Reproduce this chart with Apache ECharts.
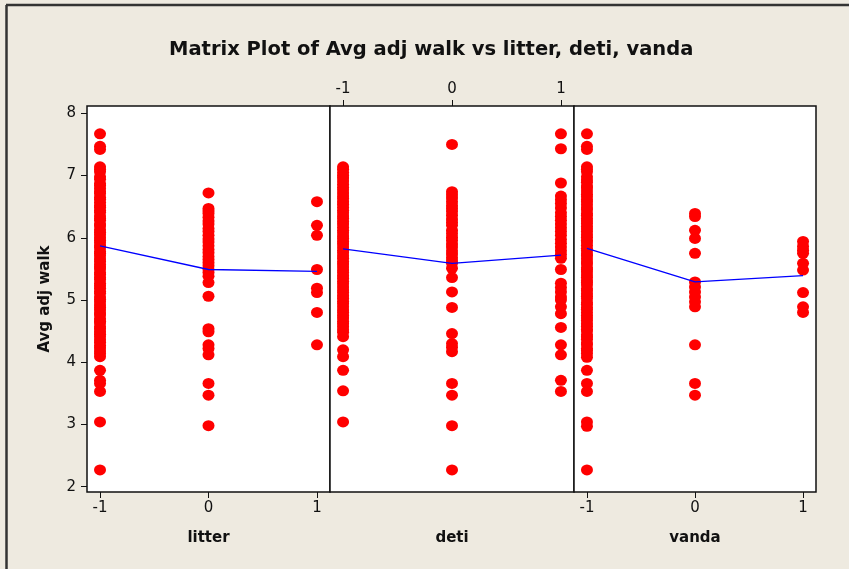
<!DOCTYPE html>
<html>
<head>
<meta charset="utf-8">
<script src="https://cdn.jsdelivr.net/npm/echarts@6/dist/echarts.min.js"></script>
<style>
  html, body { margin: 0; padding: 0; background: #eeeae0; }
  #main { width: 849px; height: 569px; }
</style>
</head>
<body>
<div id="main"></div>
<script>
// 各面板横轴
var levels = [-1, 0, 1];
var yTicks = [2, 3, 4, 5, 6, 7, 8];
var panelNames = ['litter', 'deti', 'vanda'];

// litter
var litterNeg = [7.67, 7.47, 7.42, 7.14, 7.10, 7.06, 6.98, 6.94, 6.87, 6.84, 6.79, 6.74, 6.71, 6.65, 6.62, 6.57, 6.52, 6.49, 6.44, 6.41, 6.35, 6.31, 6.28, 6.22, 6.19, 6.13, 6.09, 6.05, 6.00, 5.96, 5.92, 5.87, 5.84, 5.78, 5.75, 5.71, 5.66, 5.62, 5.57, 5.53, 5.50, 5.44, 5.41, 5.36, 5.33, 5.27, 5.23, 5.19, 5.14, 5.11, 5.05, 5.01, 4.97, 4.92, 4.88, 4.84, 4.79, 4.76, 4.70, 4.66, 4.63, 4.57, 4.54, 4.49, 4.45, 4.41, 4.36, 4.32, 4.27, 4.23, 4.18, 4.14, 4.09, 3.87, 3.71, 3.66, 3.53, 3.04, 2.27];
var litterZero = [6.72, 6.47, 6.43, 6.39, 6.33, 6.27, 6.22, 6.15, 6.10, 6.04, 5.98, 5.93, 5.87, 5.81, 5.76, 5.70, 5.65, 5.60, 5.55, 5.49, 5.44, 5.38, 5.28, 5.06, 4.54, 4.49, 4.28, 4.22, 4.12, 3.66, 3.47, 2.98];
var litterPos = [6.58, 6.20, 6.04, 5.49, 5.19, 5.12, 4.80, 4.28];
var litterMean = [5.87, 5.49, 5.46];

// deti
var detiNeg = [7.14, 7.10, 7.05, 7.00, 6.96, 6.91, 6.86, 6.81, 6.77, 6.72, 6.67, 6.63, 6.58, 6.54, 6.49, 6.44, 6.40, 6.35, 6.31, 6.26, 6.22, 6.17, 6.12, 6.08, 6.03, 5.99, 5.94, 5.90, 5.85, 5.80, 5.76, 5.71, 5.67, 5.62, 5.58, 5.53, 5.48, 5.44, 5.39, 5.35, 5.30, 5.26, 5.21, 5.16, 5.12, 5.07, 5.03, 4.98, 4.94, 4.89, 4.84, 4.80, 4.75, 4.71, 4.66, 4.62, 4.57, 4.52, 4.48, 4.41, 4.20, 4.09, 3.87, 3.54, 3.04];
var detiZero = [7.50, 6.74, 6.69, 6.64, 6.58, 6.52, 6.47, 6.42, 6.36, 6.30, 6.25, 6.20, 6.12, 6.07, 6.01, 5.96, 5.90, 5.85, 5.79, 5.74, 5.68, 5.63, 5.59, 5.51, 5.36, 5.13, 4.88, 4.46, 4.30, 4.24, 4.17, 3.66, 3.47, 2.98, 2.27];
var detiPos = [7.67, 7.43, 6.88, 6.67, 6.61, 6.55, 6.48, 6.40, 6.34, 6.28, 6.22, 6.16, 6.10, 6.04, 5.97, 5.91, 5.85, 5.79, 5.73, 5.67, 5.49, 5.27, 5.20, 5.13, 5.05, 5.00, 4.89, 4.78, 4.56, 4.28, 4.12, 3.71, 3.53];
var detiMean = [5.82, 5.59, 5.72];

// vanda
var vandaNeg = [7.67, 7.47, 7.42, 7.14, 7.10, 7.06, 6.98, 6.93, 6.89, 6.83, 6.80, 6.75, 6.70, 6.66, 6.61, 6.58, 6.53, 6.48, 6.45, 6.39, 6.36, 6.31, 6.27, 6.23, 6.18, 6.14, 6.10, 6.05, 6.01, 5.96, 5.93, 5.88, 5.83, 5.79, 5.74, 5.71, 5.66, 5.61, 5.58, 5.52, 5.49, 5.45, 5.40, 5.36, 5.31, 5.28, 5.24, 5.18, 5.15, 5.10, 5.06, 5.02, 4.96, 4.93, 4.88, 4.85, 4.80, 4.75, 4.71, 4.67, 4.62, 4.58, 4.53, 4.50, 4.44, 4.41, 4.37, 4.31, 4.28, 4.22, 4.19, 4.14, 4.08, 3.87, 3.66, 3.53, 3.04, 2.97, 2.27];
var vandaZero = [6.39, 6.34, 6.12, 5.99, 5.75, 5.29, 5.21, 5.13, 5.05, 4.97, 4.89, 4.28, 3.66, 3.47];
var vandaPos = [5.94, 5.86, 5.80, 5.75, 5.59, 5.48, 5.12, 4.89, 4.80];
var vandaMean = [5.83, 5.29, 5.39];

var groups = [
    [litterNeg, litterZero, litterPos],
    [detiNeg, detiZero, detiPos],
    [vandaNeg, vandaZero, vandaPos]
];
var means = [litterMean, detiMean, vandaMean];

var font = 'DejaVu Sans';
var grids = [
    { left: 87, top: 106, width: 243, height: 386 },
    { left: 330, top: 106, width: 244, height: 386 },
    { left: 574, top: 106, width: 242, height: 386 }
];
grids.forEach(function (g) {
    g.show = true;
    g.backgroundColor = '#ffffff';
    g.borderColor = '#111';
    g.borderWidth = 1.5;
});

var xAxes = [];
var yAxes = [];
var series = [];
for (var i = 0; i < 3; i++) {
    xAxes.push({
        type: 'value', gridIndex: i, min: -1.12, max: 1.12,
        position: i == 1 ? 'top' : 'bottom',
        name: i == 1 ? '' : panelNames[i],
        nameLocation: 'middle', nameGap: 39,
        nameTextStyle: { fontFamily: font, fontWeight: 'bold', fontSize: 15, color: '#111' },
        axisLine: { show: false, onZero: false },
        splitLine: { show: false },
        axisTick: { show: true, length: 6, customValues: levels, lineStyle: { color: '#111' } },
        axisLabel: { customValues: levels, fontFamily: font, fontSize: 15, color: '#111', margin: 9 }
    });
    yAxes.push({
        type: 'value', gridIndex: i, min: 1.915, max: 8.117,
        show: i == 0,
        name: i == 0 ? 'Avg adj walk' : '',
        nameLocation: 'middle', nameGap: 34,
        nameTextStyle: { fontFamily: font, fontWeight: 'bold', fontSize: 15, color: '#111' },
        axisLine: { show: false, onZero: false },
        splitLine: { show: false },
        axisTick: { show: true, length: 6, customValues: yTicks, lineStyle: { color: '#111' } },
        axisLabel: { customValues: yTicks, fontFamily: font, fontSize: 15, color: '#111', margin: 11 }
    });
    var pts = [];
    for (var j = 0; j < 3; j++) {
        groups[i][j].forEach(function (v) { pts.push([levels[j], v]); });
    }
    series.push({
        type: 'scatter', xAxisIndex: i, yAxisIndex: i,
        symbol: 'circle', symbolSize: [12, 11],
        itemStyle: { color: '#ff0000', opacity: 1 },
        data: pts, z: 2
    });
    series.push({
        type: 'line', xAxisIndex: i, yAxisIndex: i,
        symbol: 'none',
        lineStyle: { color: '#0000ff', width: 1.3 },
        data: levels.map(function (x, k) { return [x, means[i][k]]; }),
        z: 3
    });
}
// deti 的轴名放在底部
xAxes.push({
    type: 'value', gridIndex: 1, min: -1.12, max: 1.12, position: 'bottom',
    name: 'deti', nameLocation: 'middle', nameGap: 39,
    nameTextStyle: { fontFamily: font, fontWeight: 'bold', fontSize: 15, color: '#111' },
    axisLine: { show: false, onZero: false }, axisTick: { show: false }, axisLabel: { show: false },
    splitLine: { show: false }
});

var myChart = echarts.init(document.getElementById('main'));
var option = {
    backgroundColor: '#eeeae0',
    animation: false,
    title: {
        text: 'Matrix Plot of Avg adj walk vs litter, deti, vanda',
        left: 164, top: 35,
        textStyle: { fontFamily: font, fontWeight: 'bold', fontSize: 19.5, color: '#111' }
    },
    graphic: [
        { type: 'line', shape: { x1: 6.5, y1: 5, x2: 6.5, y2: 569 }, style: { stroke: '#333', lineWidth: 2.5 } },
        { type: 'line', shape: { x1: 6, y1: 5, x2: 849, y2: 5 }, style: { stroke: '#333', lineWidth: 2.5 } }
    ],
    grid: grids,
    xAxis: xAxes,
    yAxis: yAxes,
    series: series
};
myChart.setOption(option);
window.onresize = myChart.resize;
</script>
</body>
</html>
